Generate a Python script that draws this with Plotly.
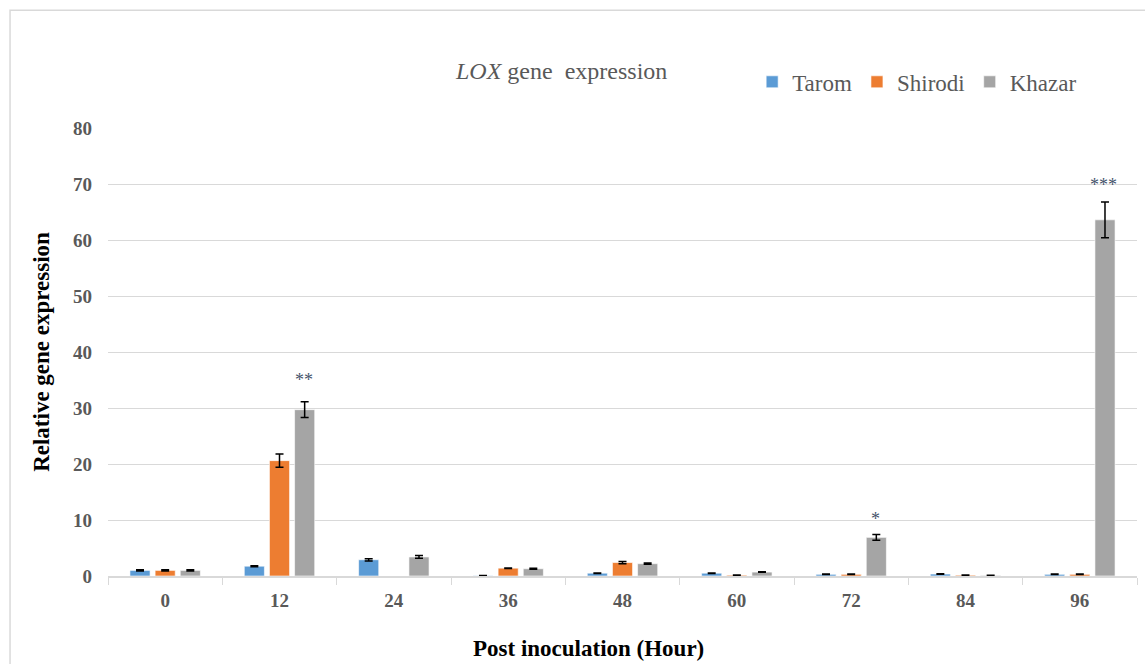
import plotly.graph_objects as go

hours = ["0", "12", "24", "36", "48", "60", "72", "84", "96"]
tarom = [1.0, 1.75, 2.9, 0.05, 0.5, 0.5, 0.3, 0.35, 0.3]
shirodi = [1.0, 20.6, None, 1.4, 2.4, 0.15, 0.3, 0.15, 0.3]
khazar = [1.0, 29.7, 3.4, 1.3, 2.2, 0.7, 6.9, 0.1, 63.6]
tarom_err = [0.1, 0.1, 0.2, 0.05, 0.05, 0.05, 0.05, 0.05, 0.05]
shirodi_err = [0.1, 1.2, 0.0, 0.05, 0.2, 0.05, 0.05, 0.05, 0.05]
khazar_err = [0.1, 1.4, 0.25, 0.1, 0.1, 0.05, 0.5, 0.05, 3.2]
sig_hours = ["12", "72", "96"]
sig_labels = ["**", "*", "***"]
sig_y = [35.0, 10.2, 69.8]

series = [
    ("Tarom", tarom, tarom_err, "#5B9BD5"),
    ("Shirodi", shirodi, shirodi_err, "#ED7D31"),
    ("Khazar", khazar, khazar_err, "#A5A5A5"),
]

SERIF = "Liberation Serif, Times New Roman, serif"

fig = go.Figure()
for name, vals, errs, col in series:
    fig.add_trace(go.Bar(
        name=name, x=hours, y=vals, marker_color=col,
        marker_line=dict(color="rgba(255,255,255,0.6)", width=1),
        error_y=dict(type="data", array=errs, visible=True, color="black",
                     thickness=1.5, width=4),
    ))

for h, lab, yv in zip(sig_hours, sig_labels, sig_y):
    fig.add_annotation(x=hours.index(h), y=yv, text=lab, showarrow=False, xshift=24,
                       yanchor="middle",
                       font=dict(family=SERIF, size=18, color="#44546A"))

fig.add_annotation(xref="paper", yref="paper", x=0.44, y=1.127, showarrow=False,
                   xanchor="center", yanchor="middle",
                   text="<i>LOX</i> gene  expression",
                   font=dict(family=SERIF, size=24, color="#595959"))

fig.add_annotation(xref="paper", yref="paper", x=0.467, y=-0.161, showarrow=False,
                   xanchor="center", yanchor="middle",
                   text="<b>Post inoculation (Hour)</b>",
                   font=dict(family=SERIF, size=23, color="black"))

fig.add_shape(type="rect", xref="paper", yref="paper",
              x0=-0.0952, x1=1.02, y0=-0.25, y1=1.263,
              line=dict(color="#D9D9D9", width=1.5), layer="below")

fig.update_layout(
    width=1145, height=664,
    margin=dict(l=108, r=8, t=128, b=88),
    paper_bgcolor="white", plot_bgcolor="white",
    barmode="group", bargap=0.34, bargroupgap=0.2,
    legend=dict(orientation="h", x=0.626, y=1.103, xanchor="left", yanchor="middle",
                font=dict(family=SERIF, size=23, color="#595959"),
                itemwidth=30, traceorder="normal", bgcolor="rgba(0,0,0,0)"),
    xaxis=dict(type="category", showgrid=False, showline=True, linecolor="#D9D9D9",
               linewidth=1.5, ticks="outside", tickson="boundaries", ticklen=7,
               tickcolor="#D9D9D9", range=[-0.5, 8.5], ticklabelstandoff=6,
               automargin=False,
               tickfont=dict(family=SERIF, size=19, color="#595959", weight="bold")),
    yaxis=dict(range=[0, 80], dtick=10, showgrid=True, gridcolor="#D9D9D9",
               gridwidth=1, zeroline=False, showline=False, ticks="",
               automargin=False,
               tickfont=dict(family=SERIF, size=19, color="#595959", weight="bold"),
               ticklabelstandoff=15,
               title=dict(text="<b>Relative gene expression</b>", standoff=16,
                          font=dict(family=SERIF, size=23, color="black"))),
    font=dict(family=SERIF),
)

fig.write_html("out.html", config={"displayModeBar": False})
with open("out.html", "r", encoding="utf-8") as f:
    html = f.read()
html = html.replace("<head>", "<head><style>body{margin:0;overflow:hidden;}</style>", 1)
with open("out.html", "w", encoding="utf-8") as f:
    f.write(html)
